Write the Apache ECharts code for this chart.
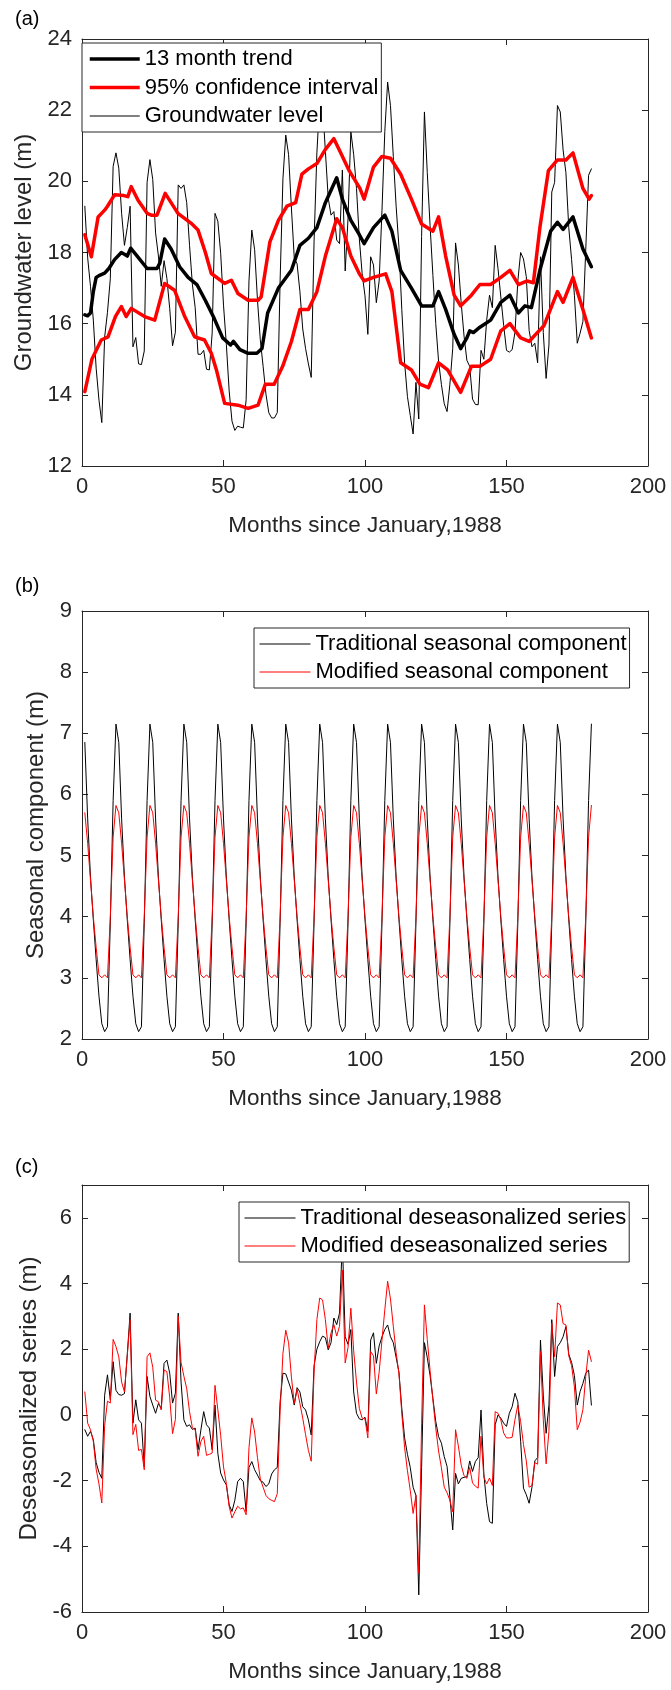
<!DOCTYPE html>
<html>
<head>
<meta charset="utf-8">
<script src="https://cdn.jsdelivr.net/npm/echarts@6/dist/echarts.min.js"></script>
<style>html,body{margin:0;padding:0;background:#fff}#c{width:671px;height:1690px}</style>
</head>
<body>
<div id="c"></div>
<script>
// ---------- DATA (months 1..180 since January 1988) ----------
const gwLevel = [19.30,17.85,17.05,16.10,14.75,13.85,13.22,15.62,16.32,17.26,20.42,20.80,
20.37,19.10,18.20,18.70,19.30,15.35,15.61,14.87,14.85,15.23,19.97,20.61,
20.05,18.55,17.90,17.05,17.77,17.27,16.42,15.38,15.76,19.90,19.80,19.90,
19.40,18.20,17.11,16.45,15.14,15.14,15.25,14.72,14.70,15.74,19.10,18.88,
17.98,16.52,15.42,14.11,13.26,13.00,13.12,13.09,13.07,13.86,17.20,18.63,
18.08,16.67,15.55,14.80,14.02,13.50,13.35,13.35,13.50,17.20,20.07,21.30,
20.75,19.25,17.85,17.68,16.90,15.85,15.30,14.87,14.49,18.30,20.80,22.28,
22.15,20.85,19.53,19.05,19.15,18.35,18.25,20.32,17.48,18.95,21.40,20.75,
19.80,18.38,17.40,16.78,15.70,17.88,17.65,16.59,17.20,19.18,21.40,22.79,
22.13,20.70,19.30,18.15,16.40,14.90,13.95,13.42,12.90,14.35,13.32,18.45,
21.95,20.25,18.75,17.35,16.00,14.94,14.29,13.75,13.53,14.30,15.30,18.27,
17.65,16.57,15.65,14.97,14.80,13.88,13.73,13.72,15.25,15.00,16.10,16.80,
16.45,18.20,17.55,16.75,15.95,15.25,15.20,15.27,15.76,17.20,18.00,17.82,
17.32,15.81,15.35,15.45,14.90,17.88,15.75,14.46,15.40,19.70,19.97,22.13,
21.95,20.88,20.24,18.70,17.80,16.80,15.45,15.73,16.06,18.07,20.17,20.35];

const trendPts = [[1,16.25],[2,16.22],[3,16.3],[4,16.9],[5,17.3],[6,17.35],[8,17.42],[9.5,17.55],[11.5,17.8],[13.9,18.0],[15,17.95],[16,17.9],[17.2,18.12],[19.5,17.9],[23,17.55],[26.5,17.55],[27.5,17.7],[29.2,18.38],[31.5,18.1],[34.5,17.6],[37.5,17.3],[40.6,17.1],[43.6,16.65],[46.7,16.15],[49.7,15.6],[52.5,15.4],[53.5,15.5],[55.8,15.27],[58.5,15.17],[61.8,15.17],[63.6,15.3],[65.6,16.3],[69.4,17.0],[74,17.5],[77,18.2],[80,18.4],[83,18.7],[86,19.4],[90,20.1],[92,19.5],[95,18.9],[98,18.5],[99.7,18.25],[103,18.7],[107,19.05],[109.5,18.6],[112.6,17.5],[116.4,17.0],[120,16.5],[124,16.5],[126,16.9],[128.5,16.4],[131.5,15.7],[133.8,15.3],[136,15.6],[137,15.8],[138.3,15.75],[140.6,15.9],[144.4,16.1],[148,16.6],[151.2,16.8],[154.2,16.3],[156.5,16.5],[158.8,16.45],[161.8,17.5],[165.6,18.6],[168,18.85],[170,18.65],[173.5,19.0],[177,18.1],[180,17.6]];

const ciUpperPts = [[1,18.5],[3.3,17.88],[5.7,19.0],[8,19.19],[9,19.3],[11.5,19.62],[14.8,19.6],[16.2,19.57],[17.4,19.85],[19.8,19.47],[23,19.1],[24.5,19.05],[26.5,19.05],[29.4,19.66],[33.9,19.1],[38.6,18.82],[41,18.63],[43.6,18.0],[45.7,17.41],[50.4,17.13],[52.8,17.22],[55.1,16.85],[58.7,16.66],[62.2,16.66],[63.3,16.75],[66.4,18.3],[69.4,18.9],[72.4,19.3],[75.5,19.4],[77.7,20.2],[80,20.35],[83,20.5],[86,20.9],[89,21.2],[91.4,20.8],[94.4,20.3],[98.2,19.8],[99.7,19.5],[103,20.4],[106,20.7],[109,20.65],[112.6,20.2],[116.4,19.5],[120,18.8],[124,18.6],[126,19.0],[128.5,17.9],[131.5,16.8],[133.8,16.5],[137.6,16.8],[140.6,17.1],[144.4,17.1],[148,17.3],[151.2,17.5],[154.2,17.1],[157.3,17.2],[159.5,17.15],[161.8,18.7],[164.8,20.3],[168,20.6],[171,20.6],[173.5,20.8],[177,19.8],[179.2,19.5],[180,19.6]];

const ciLowerPts = [[1,14.09],[3.5,15.0],[6.8,15.54],[9.2,15.63],[11.8,16.2],[13.9,16.48],[15.6,16.2],[17.4,16.43],[22.1,16.2],[25.7,16.1],[29.2,17.13],[32.7,16.94],[36.3,16.2],[39.8,15.63],[43.3,15.54],[45.7,15.17],[47.5,14.7],[50.4,13.76],[55.1,13.71],[58.7,13.62],[62.2,13.71],[64.8,14.3],[67.9,14.3],[70.9,14.8],[74,15.5],[77,16.4],[80,16.4],[83,16.9],[86,17.9],[90,18.95],[92,18.7],[95,17.9],[98,17.4],[99.7,17.2],[103,17.3],[107.3,17.4],[109.5,16.9],[112.6,14.9],[116.4,14.7],[119.4,14.3],[122.4,14.2],[126,14.9],[129.2,14.7],[133.8,14.07],[137.6,14.8],[140.6,14.8],[144.4,15.0],[148,15.8],[151.2,16.0],[155,15.6],[158,15.5],[160.3,15.7],[163.3,15.95],[168,16.9],[170,16.6],[173.5,17.3],[177,16.4],[180,15.6]];

const seasTrad = [6.85,5.6,4.65,3.95,3.3,2.7,2.25,2.12,2.2,3.9,5.9,7.15,
6.85,5.6,4.65,3.95,3.3,2.7,2.25,2.12,2.2,3.9,5.9,7.15,
6.85,5.6,4.65,3.95,3.3,2.7,2.25,2.12,2.2,3.9,5.9,7.15,
6.85,5.6,4.65,3.95,3.3,2.7,2.25,2.12,2.2,3.9,5.9,7.15,
6.85,5.6,4.65,3.95,3.3,2.7,2.25,2.12,2.2,3.9,5.9,7.15,
6.85,5.6,4.65,3.95,3.3,2.7,2.25,2.12,2.2,3.9,5.9,7.15,
6.85,5.6,4.65,3.95,3.3,2.7,2.25,2.12,2.2,3.9,5.9,7.15,
6.85,5.6,4.65,3.95,3.3,2.7,2.25,2.12,2.2,3.9,5.9,7.15,
6.85,5.6,4.65,3.95,3.3,2.7,2.25,2.12,2.2,3.9,5.9,7.15,
6.85,5.6,4.65,3.95,3.3,2.7,2.25,2.12,2.2,3.9,5.9,7.15,
6.85,5.6,4.65,3.95,3.3,2.7,2.25,2.12,2.2,3.9,5.9,7.15,
6.85,5.6,4.65,3.95,3.3,2.7,2.25,2.12,2.2,3.9,5.9,7.15,
6.85,5.6,4.65,3.95,3.3,2.7,2.25,2.12,2.2,3.9,5.9,7.15,
6.85,5.6,4.65,3.95,3.3,2.7,2.25,2.12,2.2,3.9,5.9,7.15,
6.85,5.6,4.65,3.95,3.3,2.7,2.25,2.12,2.2,3.9,5.9,7.15];

const seasMod = [5.7,5.2,4.6,4.0,3.5,3.05,3.0,3.05,3.0,4.0,5.3,5.82,
5.7,5.2,4.6,4.0,3.5,3.05,3.0,3.05,3.0,4.0,5.3,5.82,
5.7,5.2,4.6,4.0,3.5,3.05,3.0,3.05,3.0,4.0,5.3,5.82,
5.7,5.2,4.6,4.0,3.5,3.05,3.0,3.05,3.0,4.0,5.3,5.82,
5.7,5.2,4.6,4.0,3.5,3.05,3.0,3.05,3.0,4.0,5.3,5.82,
5.7,5.2,4.6,4.0,3.5,3.05,3.0,3.05,3.0,4.0,5.3,5.82,
5.7,5.2,4.6,4.0,3.5,3.05,3.0,3.05,3.0,4.0,5.3,5.82,
5.7,5.2,4.6,4.0,3.5,3.05,3.0,3.05,3.0,4.0,5.3,5.82,
5.7,5.2,4.6,4.0,3.5,3.05,3.0,3.05,3.0,4.0,5.3,5.82,
5.7,5.2,4.6,4.0,3.5,3.05,3.0,3.05,3.0,4.0,5.3,5.82,
5.7,5.2,4.6,4.0,3.5,3.05,3.0,3.05,3.0,4.0,5.3,5.82,
5.7,5.2,4.6,4.0,3.5,3.05,3.0,3.05,3.0,4.0,5.3,5.82,
5.7,5.2,4.6,4.0,3.5,3.05,3.0,3.05,3.0,4.0,5.3,5.82,
5.7,5.2,4.6,4.0,3.5,3.05,3.0,3.05,3.0,4.0,5.3,5.82,
5.7,5.2,4.6,4.0,3.5,3.05,3.0,3.05,3.0,4.0,5.3,5.82];

const desTrad = [-0.45,-0.65,-0.5,-0.75,-1.45,-1.75,-1.93,0.6,1.22,0.46,1.62,0.75,
0.62,0.6,0.65,1.85,3.1,-0.25,0.46,-0.15,-0.25,-1.57,1.17,0.56,
0.3,0.05,0.35,0.2,1.57,1.67,1.27,0.36,0.66,3.1,1.0,-0.15,
-0.35,-0.3,-0.44,-0.4,-1.06,-0.46,0.1,-0.3,-0.4,-1.06,0.3,-1.17,
-1.77,-1.98,-2.13,-2.74,-2.94,-2.6,-2.03,-1.93,-2.03,-2.94,-1.6,-1.42,
-1.67,-1.83,-2.0,-2.05,-2.18,-2.1,-1.8,-1.67,-1.6,0.4,1.27,1.25,
1.0,0.75,0.3,0.83,0.7,0.25,0.15,-0.15,-0.61,1.5,2.0,2.23,
2.4,2.35,1.98,2.2,2.95,2.75,3.1,5.3,2.38,2.15,2.6,0.7,
0.05,-0.12,-0.15,-0.07,-0.5,2.28,2.5,1.57,2.1,2.38,2.6,2.74,
2.38,2.2,1.75,1.3,0.2,-0.7,-1.2,-1.6,-2.2,-2.45,-5.48,-1.6,
2.2,1.75,1.2,0.5,-0.2,-0.66,-0.86,-1.27,-1.57,-2.5,-3.5,-1.78,
-2.1,-1.93,-1.9,-1.88,-1.4,-1.72,-1.42,-1.3,0.15,-1.8,-2.7,-3.25,
-3.3,-0.3,0.0,-0.1,-0.25,-0.35,0.05,0.25,0.66,0.4,-0.8,-2.23,
-2.43,-2.69,-2.2,-1.4,-1.3,2.28,0.6,-0.56,0.3,2.9,1.17,2.08,
2.2,2.38,2.69,1.85,1.6,1.2,0.3,0.71,0.96,1.27,1.37,0.3];

const desMod = [0.70,-0.25,-0.45,-0.80,-1.65,-2.10,-2.68,-0.33,0.42,0.36,2.30,2.08,
1.77,1.00,0.70,1.80,2.90,-0.60,-0.29,-1.08,-1.05,-1.67,1.77,1.89,
1.45,0.45,0.40,0.15,1.37,1.32,0.52,-0.57,-0.14,3.00,1.60,1.18,
0.80,0.10,-0.39,-0.45,-1.26,-0.81,-0.65,-1.23,-1.20,-1.16,0.90,0.16,
-0.62,-1.58,-2.08,-2.79,-3.14,-2.95,-2.78,-2.86,-2.83,-3.04,-1.00,-0.09,
-0.52,-1.30,-1.95,-2.20,-2.45,-2.55,-2.60,-2.64,-2.40,0.10,1.87,2.58,
2.20,1.15,0.35,0.78,0.35,-0.10,-0.60,-1.08,-1.41,1.30,2.90,3.56,
3.50,2.90,2.03,2.50,2.75,2.40,2.70,4.41,1.58,2.05,3.25,1.95,
1.00,0.20,-0.10,-0.12,-0.70,1.93,1.80,0.64,1.30,2.28,3.20,4.07,
3.53,2.70,1.90,1.25,0.05,-1.00,-1.70,-2.30,-3.00,-2.45,-4.82,-0.27,
3.35,2.30,1.35,0.45,-0.40,-1.10,-1.61,-2.20,-2.37,-2.60,-2.95,-0.45,
-0.95,-1.53,-1.85,-1.93,-1.60,-2.07,-2.17,-2.23,-0.65,-1.90,-2.10,-1.92,
-2.15,0.10,0.05,-0.15,-0.55,-0.70,-0.70,-0.68,-0.14,0.30,-0.20,-0.90,
-1.40,-2.20,-2.15,-1.45,-1.50,1.93,-0.15,-1.49,-0.50,2.80,1.77,3.41,
3.35,2.78,2.74,1.80,1.50,0.85,-0.45,-0.22,0.16,1.17,1.97,1.63];

const xTickValues = [0, 50, 100, 150, 200];
const yTicksA = [12, 14, 16, 18, 20, 22, 24];
const yTicksB = [2, 3, 4, 5, 6, 7, 8, 9];
const yTicksC = [-6, -4, -2, 0, 2, 4, 6];

// ---------- CHART ----------
const FONT = '"Liberation Sans", Arial, Helvetica, sans-serif';
const AX = '#262626';
const months = gwLevel.map((_, i) => i + 1);
const pairs = ys => ys.map((v, i) => [months[i], v]);

const grids = [
  {left: 82, top: 39, width: 566, height: 427},
  {left: 82, top: 611, width: 566, height: 428},
  {left: 82, top: 1185, width: 566, height: 427}
];
const yConf = [
  {min: 12, max: 24, ticks: yTicksA, name: 'Groundwater level (m)', gap: 41},
  {min: 2, max: 9, ticks: yTicksB, name: 'Seasonal component (m)', gap: 32},
  {min: -6, max: 7, ticks: yTicksC, name: 'Deseasonalized series (m)', gap: 40}
];

const lineAx = {show: true, onZero: false, lineStyle: {color: AX, width: 1}};
const tick = vals => ({show: true, inside: true, length: 6, lineStyle: {color: AX, width: 1}, customValues: vals});
const xAxes = [], yAxes = [];
grids.forEach((g, k) => {
  xAxes.push({
    gridIndex: k, type: 'value', min: 0, max: 200, position: 'bottom',
    axisLine: lineAx, axisTick: tick(xTickValues),
    axisLabel: {color: AX, fontSize: 22, fontFamily: FONT, margin: 10, customValues: xTickValues},
    splitLine: {show: false},
    name: 'Months since January,1988', nameLocation: 'middle', nameGap: 48,
    nameTextStyle: {color: AX, fontSize: 22.5, fontFamily: FONT}
  });
  xAxes.push({
    gridIndex: k, type: 'value', min: 0, max: 200, position: 'top',
    axisLine: lineAx, axisTick: tick(xTickValues), axisLabel: {show: false}, splitLine: {show: false}
  });
  const c = yConf[k];
  yAxes.push({
    gridIndex: k, type: 'value', min: c.min, max: c.max, position: 'left',
    axisLine: lineAx, axisTick: tick(c.ticks),
    axisLabel: {color: AX, fontSize: 22, fontFamily: FONT, margin: 10, customValues: c.ticks},
    splitLine: {show: false},
    name: c.name, nameLocation: 'middle', nameGap: c.gap,
    nameTextStyle: {color: AX, fontSize: 24, fontFamily: FONT}
  });
  yAxes.push({
    gridIndex: k, type: 'value', min: c.min, max: c.max, position: 'right',
    axisLine: lineAx, axisTick: tick(c.ticks), axisLabel: {show: false}, splitLine: {show: false}
  });
});

function line(name, data, k, color, width, z) {
  return {
    name, type: 'line', data, xAxisIndex: 2 * k, yAxisIndex: 2 * k,
    symbol: 'none', showSymbol: false, smooth: false, z: z || 2,
    lineStyle: {color, width, join: 'round', cap: 'round'}, itemStyle: {color},
    emphasis: {disabled: true}, silent: true
  };
}

const legendBase = {
  orient: 'vertical', backgroundColor: '#fff', borderColor: AX, borderWidth: 1, borderRadius: 0,
  itemHeight: 14, selectedMode: false,
  itemStyle: {opacity: 0, borderWidth: 0},
  lineStyle: {width: 'inherit', cap: 'butt'},
  textStyle: {fontSize: 22, fontFamily: FONT, color: '#000', lineHeight: 26}
};

const option = {
  animation: false,
  backgroundColor: '#fff',
  grid: grids,
  xAxis: xAxes,
  yAxis: yAxes,
  legend: [
    Object.assign({}, legendBase, {left: 82, top: 43, padding: [3, 3, 3, 6], itemGap: 2.5, itemWidth: 50,
      data: ['13 month trend', '95% confidence interval', 'Groundwater level']}),
    Object.assign({}, legendBase, {left: 254, top: 628, padding: [3, 3, 3, 5], itemGap: 2, itemWidth: 51,
      data: ['Traditional seasonal component', 'Modified seasonal component']}),
    Object.assign({}, legendBase, {left: 239, top: 1202, padding: [3, 3, 3, 5], itemGap: 2, itemWidth: 51,
      data: ['Traditional deseasonalized series', 'Modified deseasonalized series']})
  ],
  graphic: [
    {type: 'text', left: 15, top: 9, style: {text: '(a)', font: '20px ' + FONT, fill: '#000'}},
    {type: 'text', left: 15, top: 576, style: {text: '(b)', font: '20px ' + FONT, fill: '#000'}},
    {type: 'text', left: 15, top: 1157, style: {text: '(c)', font: '20px ' + FONT, fill: '#000'}}
  ],
  series: [
    line('Groundwater level', pairs(gwLevel), 0, '#000', 1, 2),
    line('95% confidence interval', ciUpperPts, 0, '#ff0000', 3.5, 3),
    line('95% confidence interval', ciLowerPts, 0, '#ff0000', 3.5, 3),
    line('13 month trend', trendPts, 0, '#000', 3.5, 4),
    line('Traditional seasonal component', pairs(seasTrad), 1, '#000', 1, 2),
    line('Modified seasonal component', pairs(seasMod), 1, '#ff0000', 1, 3),
    line('Traditional deseasonalized series', pairs(desTrad), 2, '#000', 1, 2),
    line('Modified deseasonalized series', pairs(desMod), 2, '#ff0000', 1, 3)
  ]
};

const chart = echarts.init(document.getElementById('c'), null, {renderer: 'canvas'});
chart.setOption(option);
</script>
</body>
</html>
